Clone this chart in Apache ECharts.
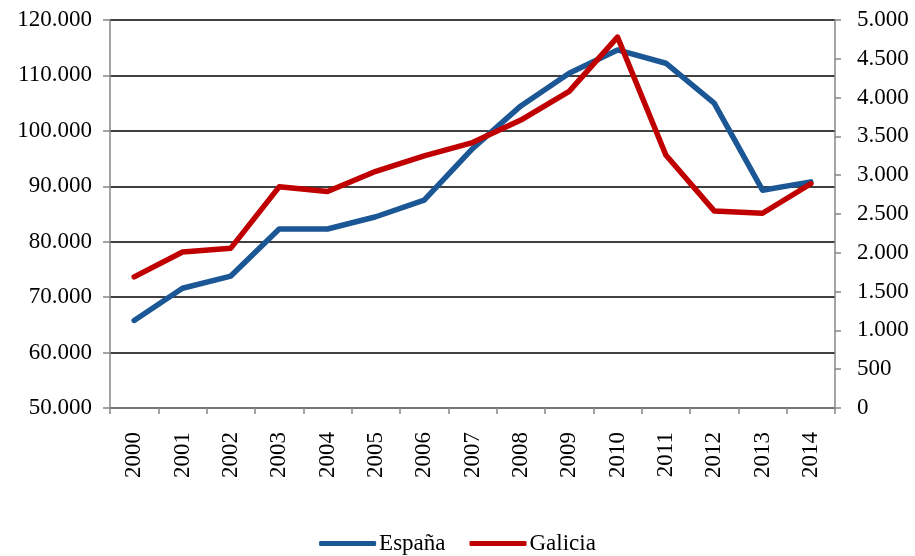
<!DOCTYPE html>
<html>
<head>
<meta charset="utf-8">
<script src="https://cdn.jsdelivr.net/npm/echarts@6/dist/echarts.min.js"></script>
<style>
  html, body { margin: 0; padding: 0; background: #fff; }
  #chart { width: 915px; height: 556px; }
</style>
</head>
<body>
<div id="chart"></div>
<script>
const years = ["2000", "2001", "2002", "2003", "2004", "2005", "2006", "2007",
  "2008", "2009", "2010", "2011", "2012", "2013", "2014"];
// eje izquierdo
const espana = [65800, 71600, 73800, 82300, 82300, 84500, 87500, 96800,
  104500, 110400, 114600, 112200, 105000, 89300, 90800];
// eje derecho
const galicia = [1690, 2010, 2060, 2850, 2790, 3050, 3250, 3420,
  3710, 4080, 4780, 3260, 2540, 2510, 2890];

const fontFam = "'Liberation Serif', 'DejaVu Serif', serif";

// separador de miles con punto
const fmt = (v) => String(v).replace(/\B(?=(\d{3})+(?!\d))/g, ".");

const getOption = () => {
  return {
    animation: false,
    backgroundColor: "#fff",
    textStyle: { fontFamily: fontFam, color: "#000" },
    grid: { left: 110, right: 80, top: 20, bottom: 148 },
    legend: {
      top: 527,
      left: "center",
      icon: "roundRect",
      itemWidth: 57,
      itemHeight: 5,
      itemGap: 24,
      textStyle: { fontFamily: fontFam, fontSize: 23, color: "#000", padding: [0, 0, 0, -2] },
      data: ["España", "Galicia"],
    },
    xAxis: {
      type: "category",
      data: years,
      boundaryGap: true,
      axisLine: { lineStyle: { color: "#868686", width: 1.5 } },
      axisTick: { show: true, interval: 0, length: 6, lineStyle: { color: "#868686", width: 1.5 } },
      axisLabel: {
        interval: 0,
        rotate: 90,
        margin: 24,
        fontFamily: fontFam,
        fontSize: 23,
        color: "#000",
      },
    },
    yAxis: [
      {
        type: "value",
        min: 50000,
        max: 120000,
        interval: 10000,
        position: "left",
        axisLine: { show: true, lineStyle: { color: "#868686", width: 1.5 } },
        axisTick: { show: true, length: 7, lineStyle: { color: "#868686", width: 1.5 } },
        axisLabel: {
          margin: 18,
          fontFamily: fontFam,
          fontSize: 23,
          color: "#000",
          formatter: fmt,
        },
        splitLine: { show: true, lineStyle: { color: "#000", width: 1.5 } },
      },
      {
        type: "value",
        min: 0,
        max: 5000,
        interval: 500,
        position: "right",
        axisLine: { show: true, lineStyle: { color: "#868686", width: 1.5 } },
        axisTick: { show: true, length: 6, lineStyle: { color: "#868686", width: 1.5 } },
        axisLabel: {
          margin: 22,
          fontFamily: fontFam,
          fontSize: 23,
          color: "#000",
          formatter: fmt,
        },
        splitLine: { show: false },
      },
    ],
    series: [
      {
        name: "España",
        type: "line",
        yAxisIndex: 0,
        data: espana,
        symbol: "none",
        color: "#1B5695",
        lineStyle: { width: 5.5, color: "#1B5695", cap: "round", join: "round" },
      },
      {
        name: "Galicia",
        type: "line",
        yAxisIndex: 1,
        data: galicia,
        symbol: "none",
        color: "#C00000",
        lineStyle: { width: 5.5, color: "#C00000", cap: "round", join: "round" },
      },
    ],
  };
};

const chart = echarts.init(document.getElementById("chart"));
chart.setOption(getOption());
</script>
</body>
</html>
